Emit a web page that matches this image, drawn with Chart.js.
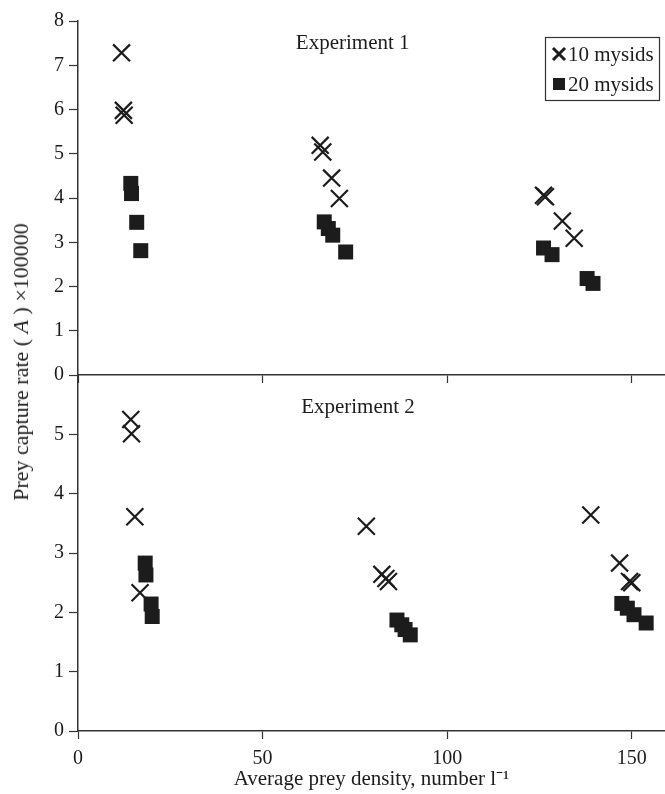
<!DOCTYPE html>
<html><head><meta charset="utf-8">
<script src="https://cdn.jsdelivr.net/npm/chart.js"></script>
<style>
html,body{margin:0;padding:0;background:#fff;overflow:hidden}
#wrap{position:relative;width:665px;height:794px;background:#fff}
canvas{position:absolute;left:0}
#c1{top:0}
#c2{top:355px}
#ytitle{position:absolute;left:21px;top:362px;transform:translate(-50%,-50%) rotate(-90deg);white-space:nowrap;font-family:'Liberation Serif',serif;font-size:22px;color:#222}
</style></head><body>
<div id="wrap">
<canvas id="c2" width="665" height="439"></canvas>
<canvas id="c1" width="665" height="395"></canvas>
<div id="ytitle">Prey capture rate ( <i>A</i> ) ×100000</div>
</div>
<script>
// ---- data ----
const seriesLabels = ['10 mysids', '20 mysids'];
const panelTitles = ['Experiment 1', 'Experiment 2'];
const xTitle = 'Average prey density, number l\u207B\u00B9';

const exp1X10 = [11.8, 12.3, 12.5, 65.6, 66.3, 68.7, 70.8, 126.1, 126.6, 131.2, 134.4];
const exp1Y10 = [7.28, 5.98, 5.87, 5.19, 5.04, 4.45, 3.99, 4.06, 4.03, 3.48, 3.09];
const exp1X20 = [14.3, 14.5, 15.9, 17.0, 66.7, 67.8, 69.0, 72.5, 126.1, 128.4, 137.9, 139.5];
const exp1Y20 = [4.33, 4.10, 3.45, 2.81, 3.46, 3.31, 3.16, 2.78, 2.87, 2.72, 2.18, 2.07];

const exp2X10 = [14.3, 14.5, 15.4, 16.8, 78.1, 82.3, 83.4, 84.1, 138.9, 146.7, 149.4, 150.0];
const exp2Y10 = [5.25, 5.01, 3.61, 2.33, 3.45, 2.64, 2.57, 2.52, 3.64, 2.83, 2.52, 2.50];
const exp2X20 = [18.2, 18.4, 19.8, 20.1, 86.4, 87.7, 88.6, 90.0, 147.3, 148.8, 150.6, 153.9];
const exp2Y20 = [2.83, 2.63, 2.14, 1.93, 1.87, 1.79, 1.71, 1.62, 2.15, 2.07, 1.96, 1.82];

const xMin = 0, xMax = 159, xStep = 50;
const y1Max = 8, y2Max = 6;

// ---- helpers ----
const FONT = "'Liberation Serif', serif";
const INK = '#1c1c1c';
const AXIS = '#333';
const pts = (xs, ys) => xs.map((x, i) => ({x: x, y: ys[i]}));

function ds(label, xs, ys, style) {
  const cross = style === 'crossRot';
  return {
    label: label,
    data: pts(xs, ys),
    pointStyle: style,
    pointRadius: cross ? 12 : 10.6,
    pointHoverRadius: cross ? 12 : 10.6,
    borderColor: INK,
    backgroundColor: INK,
    borderWidth: cross ? 2.2 : 0,
    showLine: false
  };
}

function yScale(max, hideTop) {
  return {
    type: 'linear', min: 0, max: max,
    ticks: {
      stepSize: 1, color: INK, padding: 5,
      font: {family: FONT, size: 20},
      callback: v => (hideTop && v === max) ? null : v
    },
    grid: {display: true, drawOnChartArea: false, drawTicks: true, tickLength: 9, tickColor: AXIS, tickWidth: 1.2},
    border: {display: true, color: AXIS, width: 1.5},
    afterFit: s => { s.width = 78; }
  };
}

function xScale(showLabels) {
  const o = {
    type: 'linear', min: xMin, max: xMax,
    ticks: {
      display: showLabels, stepSize: xStep, includeBounds: false, color: INK, padding: 8,
      maxRotation: 0, font: {family: FONT, size: 20}
    },
    grid: {display: true, drawOnChartArea: false, drawTicks: true, tickLength: 8, tickColor: AXIS, tickWidth: 1.2},
    border: {display: true, color: AXIS, width: 1.5}
  };
  if (showLabels) {
    o.title = {display: true, text: xTitle, color: INK, font: {family: FONT, size: 21}, padding: {top: 0, bottom: 2}};
  }
  o.afterFit = s => { s.height = showLabels ? 63 : 20; s.paddingRight = 0; s.paddingLeft = 0; };
  return o;
}

const panelLabel = {
  id: 'panelLabel',
  afterDraw(chart, args, opts) {
    const ctx = chart.ctx, a = chart.chartArea;
    ctx.save();
    ctx.fillStyle = INK;
    ctx.font = "21px " + FONT;
    ctx.textAlign = 'center';
    ctx.textBaseline = 'middle';
    ctx.fillText(opts.text, a.left + (a.right - a.left) * opts.fx, a.top + opts.dy);
    ctx.restore();
  }
};

const boxLegend = {
  id: 'boxLegend',
  afterDraw(chart, args, opts) {
    if (!opts.show) return;
    const ctx = chart.ctx, a = chart.chartArea;
    const left = a.right - 120, top = a.top + 16, w = 114, h = 63;
    ctx.save();
    ctx.strokeStyle = AXIS; ctx.lineWidth = 1.2;
    ctx.strokeRect(left + 0.5, top + 0.5, w, h);
    ctx.font = "21px " + FONT;
    ctx.textBaseline = 'middle';
    ctx.fillStyle = INK;
    chart.data.datasets.slice(0, 2).forEach((d, i) => {
      const cy = top + 17 + i * 30;
      const cx = left + 14;
      if (d.pointStyle === 'crossRot') {
        ctx.strokeStyle = INK; ctx.lineWidth = 3;
        ctx.beginPath();
        ctx.moveTo(cx - 6, cy - 6); ctx.lineTo(cx + 6, cy + 6);
        ctx.moveTo(cx + 6, cy - 6); ctx.lineTo(cx - 6, cy + 6);
        ctx.stroke();
      } else {
        ctx.fillRect(cx - 6, cy - 6, 12, 12);
      }
      ctx.fillText(d.label, left + 23, cy + 1);
    });
    ctx.restore();
  }
};

function makeChart(id, datasets, yMax, hideTop, showX, label, fx, dy, legend, padTop) {
  return new Chart(document.getElementById(id), {
    type: 'scatter',
    data: {datasets: datasets},
    options: {
      responsive: false, animation: false, devicePixelRatio: 1,
      layout: {autoPadding: false, padding: {top: padTop, left: 0, right: 0, bottom: 0}},
      scales: {x: xScale(showX), y: yScale(yMax, hideTop)},
      plugins: {
        legend: {display: false},
        tooltip: {enabled: false},
        panelLabel: {text: label, fx: fx, dy: dy},
        boxLegend: {show: legend}
      }
    },
    plugins: [panelLabel, boxLegend]
  });
}

makeChart('c1', [
  ds(seriesLabels[0], exp1X10, exp1Y10, 'crossRot'),
  ds(seriesLabels[1], exp1X20, exp1Y20, 'rect')
], y1Max, false, false, panelTitles[0], 0.468, 22, true, 21);

makeChart('c2', [
  ds(seriesLabels[0], exp2X10, exp2Y10, 'crossRot'),
  ds(seriesLabels[1], exp2X20, exp2Y20, 'rect')
], y2Max, true, true, panelTitles[1], 0.477, 32, false, 20);
</script>
</body></html>
